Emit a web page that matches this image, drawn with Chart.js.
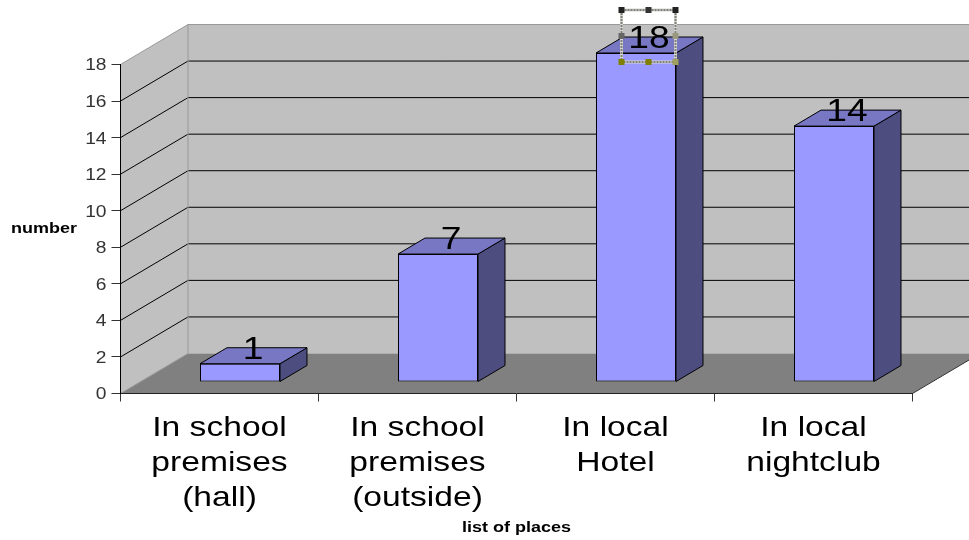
<!DOCTYPE html>
<html><head><meta charset="utf-8">
<style>html,body{margin:0;padding:0;background:#fff}#w{width:969px;height:540px}canvas{display:block}</style>
<script src="https://cdn.jsdelivr.net/npm/chart.js@4"></script>
</head><body><div id="w"><canvas id="c" width="969" height="540"></canvas></div>
<script>
const categories = [
  ["In school","premises","(hall)"],
  ["In school","premises","(outside)"],
  ["In local","Hotel"],
  ["In local","nightclub"]
];
const values = [1, 7, 18, 14];
const yTitle = "number";
const xTitle = "list of places";

const FONT = '"Liberation Sans", Arial, sans-serif';
const WALL = {dx: 67.5, dy: -40};
const BAR = {dx: 20.5, dy: -11.5, sideX: 27, sideY: -16};
const STRETCH = 1.2;

function stretched(ctx, fn, shiftY) {
  const orig = ctx.fillText;
  const sy = shiftY || 0;
  ctx.fillText = function (t, x, y) {
    ctx.save();
    ctx.translate(x * (1 - STRETCH), sy);
    ctx.scale(STRETCH, 1);
    orig.call(ctx, t, x, y);
    ctx.restore();
  };
  fn();
  delete ctx.fillText;
}
function poly(ctx, pts, fill, stroke) {
  ctx.beginPath();
  pts.forEach((p, i) => i ? ctx.lineTo(p[0], p[1]) : ctx.moveTo(p[0], p[1]));
  ctx.closePath();
  if (fill) { ctx.fillStyle = fill; ctx.fill(); }
  if (stroke) { ctx.strokeStyle = stroke; ctx.lineWidth = 1; ctx.stroke(); }
}
function line(ctx, a, b, color) {
  ctx.beginPath(); ctx.moveTo(a[0], a[1]); ctx.lineTo(b[0], b[1]);
  ctx.strokeStyle = color; ctx.lineWidth = 1; ctx.stroke();
}

const box3d = {
  id: 'box3d',
  beforeDraw(chart) {
    const {ctx, chartArea: a, scales: {x, y}} = chart;
    if (!x._wrapped) {
      x._wrapped = true;
      [x, y].forEach(s => {
        const dl = s.drawLabels, dt = s.drawTitle;
        const shift = s === y ? 1.5 : 0;
        s.drawLabels = function (ar) { stretched(s.ctx, () => dl.call(s, ar), shift); };
        s.drawTitle = function () { stretched(s.ctx, () => dt.call(s)); };
      });
    }
    const d = WALL;
    const y0 = y.getPixelForValue(0), yT = y.getPixelForValue(y.max);
    ctx.save();
    poly(ctx, [[a.left, yT], [a.left + d.dx, yT + d.dy], [a.left + d.dx, y0 + d.dy], [a.left, y0]], '#C0C0C0');
    poly(ctx, [[a.left + d.dx, yT + d.dy], [a.right + d.dx, yT + d.dy], [a.right + d.dx, y0 + d.dy], [a.left + d.dx, y0 + d.dy]], '#C0C0C0');
    poly(ctx, [[a.left, y0], [a.right, y0], [a.right + d.dx, y0 + d.dy], [a.left + d.dx, y0 + d.dy]], '#808080');
    y.ticks.forEach(t => {
      const p = y.getPixelForValue(t.value);
      if (t.value === 0) return;
      const col = t.value === y.max ? '#999999' : '#000000';
      line(ctx, [a.left, p], [a.left + d.dx, p + d.dy], col);
      line(ctx, [a.left + d.dx, p + d.dy], [a.right + d.dx, p + d.dy], col);
    });
    line(ctx, [a.left + d.dx, yT + d.dy], [a.left + d.dx, y0 + d.dy], '#999999');
    line(ctx, [a.left, y0], [a.left + d.dx, y0 + d.dy], '#999999');
    line(ctx, [a.right, y0], [a.right + d.dx, y0 + d.dy], '#333333');
    ctx.restore();
    ctx.save();
    ctx.font = 'bold 15px ' + FONT;
    ctx.fillStyle = '#000';
    ctx.textAlign = 'center';
    ctx.textBaseline = 'middle';
    stretched(ctx, () => ctx.fillText(yTitle, 44, 228.5));
    ctx.restore();
  },
  beforeDatasetDraw(chart, args) {
    const ctx = chart.ctx;
    ctx.save();
    ctx.translate(BAR.dx, BAR.dy);
    args.meta.data.forEach(el => {
      const l = el.x - el.width / 2, r = el.x + el.width / 2, t = el.y, b = el.base;
      poly(ctx, [[r, t], [r + BAR.sideX, t + BAR.sideY], [r + BAR.sideX, b + BAR.sideY], [r, b]], '#4D4D80', '#000');
      poly(ctx, [[l, t], [l + BAR.sideX, t + BAR.sideY], [r + BAR.sideX, t + BAR.sideY], [r, t]], '#7777C4', '#000');
    });
  },
  afterDatasetDraw(chart, args) {
    const ctx = chart.ctx;
    ctx.font = '31px ' + FONT;
    ctx.fillStyle = '#000';
    ctx.textAlign = 'center';
    ctx.textBaseline = 'alphabetic';
    stretched(ctx, () => args.meta.data.forEach((el, i) => {
      ctx.fillText(String(values[i]), el.x + 13, el.y - 5);
    }));
    ctx.restore();
    // selection frame around the data label of the tallest bar
    const i = values.indexOf(Math.max(...values));
    const el = args.meta.data[i];
    const cx = el.x + BAR.dx + 12.5, top = el.y + BAR.dy - 43, bot = el.y + BAR.dy + 9, hw = 27;
    const rect = [cx - hw, top, hw * 2, bot - top];
    ctx.save();
    ctx.strokeStyle = '#d8d8d4'; ctx.lineWidth = 3; ctx.strokeRect(...rect);
    ctx.strokeStyle = '#808078'; ctx.lineWidth = 2; ctx.setLineDash([2, 1]); ctx.strokeRect(...rect);
    ctx.setLineDash([]);
    const mid = (top + bot) / 2;
    [[cx - hw, top, '#222'], [cx, top, '#333'], [cx + hw, top, '#222'],
     [cx - hw, mid, '#666'], [cx + hw, mid, '#99997f'],
     [cx - hw, bot, '#808000'], [cx, bot, '#808000'], [cx + hw, bot, '#a0a060']].forEach(h => {
      ctx.fillStyle = h[2];
      ctx.fillRect(h[0] - 3, h[1] - 3, 6, 6);
    });
    ctx.restore();
  }
};

new Chart(document.getElementById('c'), {
  type: 'bar',
  data: {
    labels: categories,
    datasets: [{
      data: values,
      backgroundColor: '#9999FF',
      borderColor: '#000000',
      borderWidth: 1,
      borderSkipped: false,
      barPercentage: 0.404,
      categoryPercentage: 1,
      clip: false
    }]
  },
  plugins: [box3d],
  options: {
    responsive: false,
    animation: false,
    layout: {padding: {left: 0, top: 64.5, right: 56.5, bottom: 0}},
    plugins: {legend: {display: false}, tooltip: {enabled: false}},
    scales: {
      x: {
        afterFit(s) { s.height = 146.5; },
        grid: {drawOnChartArea: false, tickLength: 8, color: '#333333'},
        border: {color: '#222222'},
        ticks: {autoSkip: false, minRotation: 0, maxRotation: 0, padding: 9.5, color: '#000',
                font: {family: FONT, size: 28, lineHeight: 1.25}},
        title: {display: true, text: xTitle, color: '#000', padding: {top: 0, bottom: 3.5},
                font: {family: FONT, size: 15, weight: 'bold'}}
      },
      y: {
        min: 0, max: 18,
        afterFit(s) { s.width = 120.5; },
        grid: {drawOnChartArea: false, tickLength: 9, color: '#333333'},
        border: {color: '#000000'},
        ticks: {stepSize: 2, padding: 5, color: '#333333', font: {family: FONT, size: 16}}
      }
    }
  }
});
</script></body></html>
